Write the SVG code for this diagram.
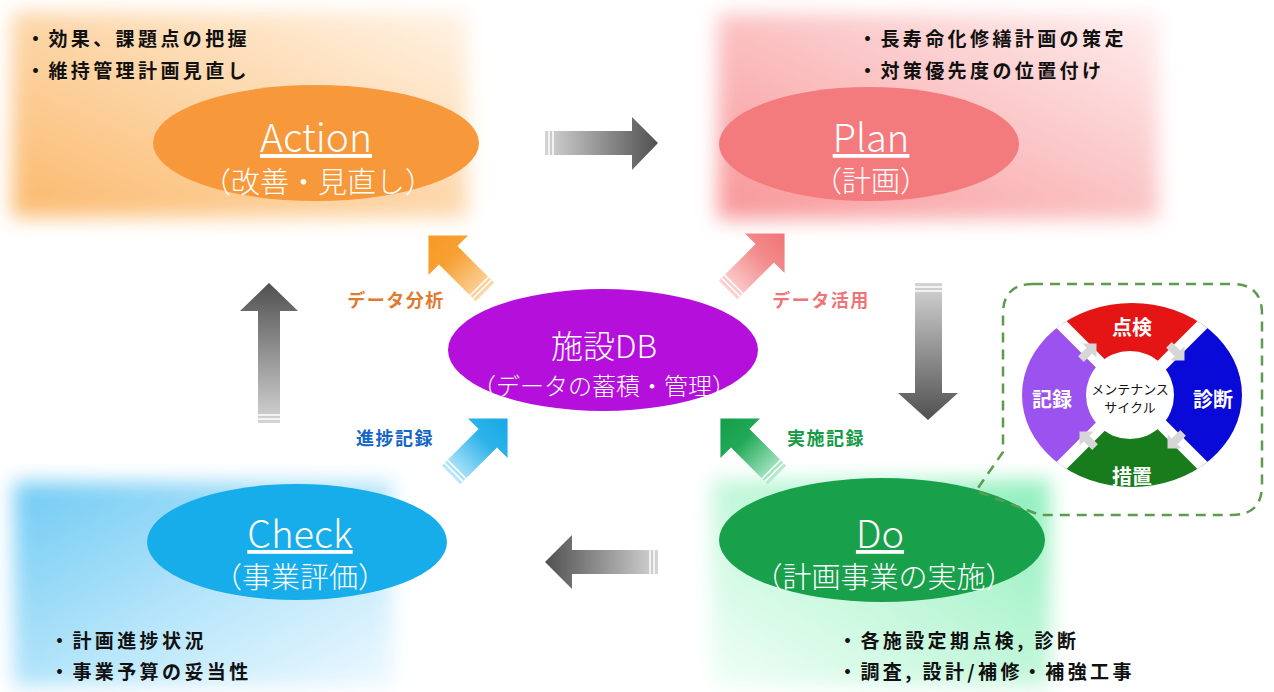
<svg xmlns="http://www.w3.org/2000/svg" width="1274" height="692" viewBox="0 0 1274 692">
<defs>
<style>
.jp{font-family:"Noto Sans CJK JP","Noto Sans",sans-serif}
.bul{font-family:"Noto Sans CJK JP",sans-serif;font-size:19px;font-weight:700;fill:#111;letter-spacing:3.4px}
.title{font-family:"Noto Sans CJK JP","Noto Sans",sans-serif;font-weight:200;fill:#fff;text-anchor:middle}
.lbl{font-family:"Noto Sans CJK JP",sans-serif;font-size:18px;font-weight:700;text-anchor:middle;letter-spacing:1.5px}
.seg{font-family:"Noto Sans CJK JP",sans-serif;font-size:20px;font-weight:700;fill:#fff;text-anchor:middle}
.stripe{stroke:#fff;stroke-width:1.5}
</style>
<filter id="soft" x="-20%" y="-20%" width="140%" height="140%"><feGaussianBlur stdDeviation="10"/></filter>
<linearGradient id="pA" x1="0" y1="1" x2="1" y2="0"><stop offset="0" stop-color="#fbb96c"/><stop offset="0.55" stop-color="#fdd9ae"/><stop offset="1" stop-color="#fff3e6"/></linearGradient>
<linearGradient id="pP" x1="0" y1="1" x2="1" y2="0"><stop offset="0" stop-color="#f89597"/><stop offset="0.55" stop-color="#fbc6c7"/><stop offset="1" stop-color="#ffeeee"/></linearGradient>
<linearGradient id="pC" x1="0" y1="0" x2="1" y2="1"><stop offset="0" stop-color="#6fcaf4"/><stop offset="0.55" stop-color="#b9e6fa"/><stop offset="1" stop-color="#eef9ff"/></linearGradient>
<linearGradient id="pD" x1="1" y1="0" x2="0" y2="1"><stop offset="0" stop-color="#8cefbb"/><stop offset="0.5" stop-color="#c2f7da"/><stop offset="1" stop-color="#f1fff7"/></linearGradient>
<linearGradient id="gR" x1="0" y1="0" x2="1" y2="0"><stop offset="0" stop-color="#d4d4d4"/><stop offset="1" stop-color="#505050"/></linearGradient>
<linearGradient id="gL" x1="1" y1="0" x2="0" y2="0"><stop offset="0" stop-color="#d4d4d4"/><stop offset="1" stop-color="#505050"/></linearGradient>
<linearGradient id="gU" x1="0" y1="1" x2="0" y2="0"><stop offset="0" stop-color="#d4d4d4"/><stop offset="1" stop-color="#505050"/></linearGradient>
<linearGradient id="gD" x1="0" y1="0" x2="0" y2="1"><stop offset="0" stop-color="#d4d4d4"/><stop offset="1" stop-color="#505050"/></linearGradient>
<linearGradient id="cO" x1="0" y1="0" x2="1" y2="0"><stop offset="0" stop-color="#fcd7a8"/><stop offset="0.6" stop-color="#f7a033"/><stop offset="1" stop-color="#f79a25"/></linearGradient>
<linearGradient id="cP" x1="0" y1="0" x2="1" y2="0"><stop offset="0" stop-color="#fcd3d3"/><stop offset="0.6" stop-color="#f38a8b"/><stop offset="1" stop-color="#f07476"/></linearGradient>
<linearGradient id="cB" x1="0" y1="0" x2="1" y2="0"><stop offset="0" stop-color="#bfe9fa"/><stop offset="0.6" stop-color="#2db3ea"/><stop offset="1" stop-color="#16a8e6"/></linearGradient>
<linearGradient id="cG" x1="0" y1="0" x2="1" y2="0"><stop offset="0" stop-color="#b6ecd0"/><stop offset="0.6" stop-color="#22a957"/><stop offset="1" stop-color="#129e48"/></linearGradient>
<path id="darr" d="M0,-13 H52 V-28 L80,0 L52,28 V13 H0 Z"/>
<path id="sarr" d="M-10,-4 H2 V-10 L12,0 L2,10 V4 H-10 Z"/>
<clipPath id="ring"><ellipse cx="1132" cy="395" rx="110" ry="92"/></clipPath>
</defs>

<rect width="1274" height="692" fill="#fff"/>

<g id="panels">
<rect x="12" y="12" width="455" height="205" fill="url(#pA)" filter="url(#soft)"/>
<rect x="718" y="14" width="440" height="205" fill="url(#pP)" filter="url(#soft)"/>
<rect x="14" y="482" width="378" height="204" fill="url(#pC)" filter="url(#soft)"/>
<rect x="712" y="480" width="338" height="206" fill="url(#pD)" filter="url(#soft)"/>
</g>

<g id="connectors">
<path d="M545,131 H632 V117 L658,143 L632,170 V155 H545 Z" fill="url(#gR)"/>
<line class="stripe" x1="549" y1="131" x2="549" y2="155"/><line class="stripe" x1="553" y1="131" x2="553" y2="155"/>
<path d="M915,283 H942 V393 H958 L928,420 L898,393 H915 Z" fill="url(#gD)"/>
<line class="stripe" x1="915" y1="287" x2="942" y2="287"/><line class="stripe" x1="915" y1="291" x2="942" y2="291"/>
<path d="M658,550 H572 V535 L545,562 L572,589 V574 H658 Z" fill="url(#gL)"/>
<line class="stripe" x1="654" y1="550" x2="654" y2="574"/><line class="stripe" x1="650" y1="550" x2="650" y2="574"/>
<path d="M258,423 V311 H240 L269,283 L298,311 H280 V423 Z" fill="url(#gU)"/>
<line class="stripe" x1="258" y1="419" x2="280" y2="419"/><line class="stripe" x1="258" y1="415" x2="280" y2="415"/>

<g transform="translate(485,292) rotate(-135)"><use href="#darr" fill="url(#cO)"/><line class="stripe" x1="4" y1="-13" x2="4" y2="13"/><line class="stripe" x1="8" y1="-13" x2="8" y2="13"/></g>
<g transform="translate(728,290) rotate(-45)"><use href="#darr" fill="url(#cP)"/><line class="stripe" x1="4" y1="-13" x2="4" y2="13"/><line class="stripe" x1="8" y1="-13" x2="8" y2="13"/></g>
<g transform="translate(451,475) rotate(-45)"><use href="#darr" fill="url(#cB)"/><line class="stripe" x1="4" y1="-13" x2="4" y2="13"/><line class="stripe" x1="8" y1="-13" x2="8" y2="13"/></g>
<g transform="translate(777,475) rotate(-135)"><use href="#darr" fill="url(#cG)"/><line class="stripe" x1="4" y1="-13" x2="4" y2="13"/><line class="stripe" x1="8" y1="-13" x2="8" y2="13"/></g>

<text class="lbl" x="396" y="307" fill="#e07b2e">データ分析</text>
<text class="lbl" x="821" y="307" fill="#ef7477">データ活用</text>
<text class="lbl" x="395" y="445" fill="#1466c4">進捗記録</text>
<text class="lbl" x="826" y="445" fill="#169a45">実施記録</text>
</g>

<g id="action">
<text class="bul" x="26" y="46">・効果、課題点の把握</text>
<text class="bul" x="26" y="78">・維持管理計画見直し</text>
<ellipse cx="316" cy="143" rx="163" ry="58" fill="#f7983a"/>
<text class="title" x="316" y="152" font-size="39" text-decoration="underline">Action</text>
<text class="title" x="318" y="193" font-size="29">（改善・見直し）</text>
</g>

<g id="plan">
<text class="bul" x="858" y="46">・長寿命化修繕計画の策定</text>
<text class="bul" x="858" y="78">・対策優先度の位置付け</text>
<ellipse cx="869" cy="144" rx="150" ry="57" fill="#f47b7d"/>
<text class="title" x="871" y="152" font-size="38" text-decoration="underline">Plan</text>
<text class="title" x="871" y="192" font-size="29">（計画）</text>
</g>

<g id="check">
<ellipse cx="297" cy="542" rx="150" ry="58" fill="#17acea"/>
<text class="title" x="300" y="548" font-size="38" text-decoration="underline">Check</text>
<text class="title" x="300" y="588" font-size="29">（事業評価）</text>
<text class="bul" x="50" y="648">・計画進捗状況</text>
<text class="bul" x="50" y="679">・事業予算の妥当性</text>
</g>

<g id="do">
<ellipse cx="882" cy="540" rx="163" ry="62" fill="#18a04b"/>
<text class="title" x="880" y="548" font-size="38" text-decoration="underline">Do</text>
<text class="title" x="884" y="588" font-size="29">（計画事業の実施）</text>
<text class="bul" x="838" y="648">・各施設定期点検, 診断</text>
<text class="bul" x="838" y="679">・調査, 設計/補修・補強工事</text>
</g>

<g id="db">
<ellipse cx="603" cy="350" rx="155" ry="61" fill="#b40fdb"/>
<text class="title" x="604" y="358" font-size="32" font-weight="400">施設DB</text>
<text class="title" x="604" y="395" font-size="24" font-weight="300">（データの蓄積・管理）</text>
</g>

<g id="maintenance-cycle">
<path d="M1033,284 H1232 Q1262,284 1262,314 V485 Q1262,515 1232,515 H1040 L976,491 L1003,452 V314 Q1003,284 1033,284 Z" fill="none" stroke="#5f9a4e" stroke-width="2.5" stroke-dasharray="10 7"/>
<g clip-path="url(#ring)">
<polygon points="1132,395 1012,275 1252,275" fill="#e51515"/>
<polygon points="1132,395 1252,275 1252,515" fill="#0a0ad8"/>
<polygon points="1132,395 1252,515 1012,515" fill="#187c1c"/>
<polygon points="1132,395 1012,515 1012,275" fill="#9c52ee"/>
<line x1="1012" y1="275" x2="1252" y2="515" stroke="#fff" stroke-width="12"/>
<line x1="1252" y1="275" x2="1012" y2="515" stroke="#fff" stroke-width="12"/>
</g>
<circle cx="1130" cy="395" r="44" fill="#fff"/>
<use href="#sarr" fill="#d6d6d6" transform="translate(1088,352) rotate(-45)"/>
<use href="#sarr" fill="#d6d6d6" transform="translate(1176,352) rotate(45)"/>
<use href="#sarr" fill="#d6d6d6" transform="translate(1176,440) rotate(135)"/>
<use href="#sarr" fill="#d6d6d6" transform="translate(1088,440) rotate(-135)"/>
<text class="seg" x="1132" y="335">点検</text>
<text class="seg" x="1213" y="407">診断</text>
<text class="seg" x="1132" y="484">措置</text>
<text class="seg" x="1052" y="407">記録</text>
<text class="jp" x="1130" y="394" font-size="13" text-anchor="middle" fill="#111">メンテナンス</text>
<text class="jp" x="1130" y="412" font-size="13" text-anchor="middle" fill="#111">サイクル</text>
</g>
</svg>
